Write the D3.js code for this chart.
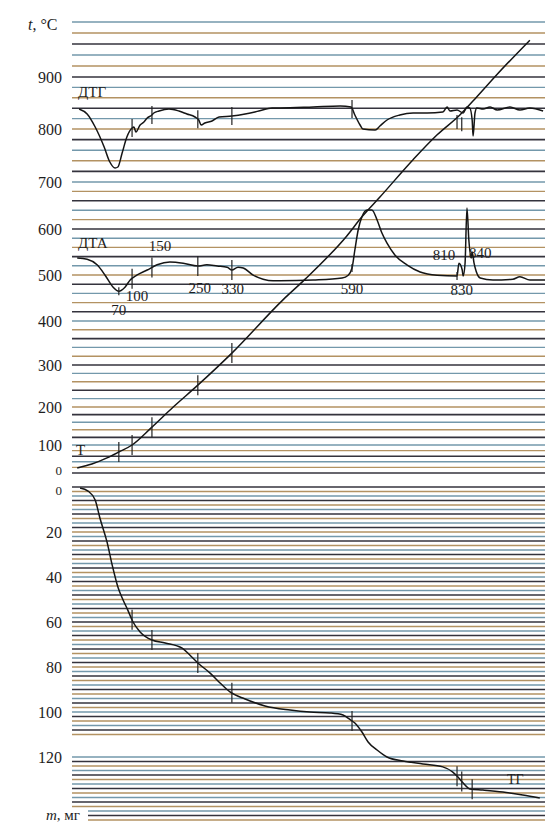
<!DOCTYPE html>
<html><head><meta charset="utf-8">
<script src="https://cdn.jsdelivr.net/npm/d3@7"></script>
<style>
body{margin:0;background:#fff}
svg{display:block}
text{font-family:"Liberation Serif","DejaVu Serif",serif;fill:#1e1e1e}
</style>
</head><body>
<svg id="c" width="545" height="825"></svg>
<script>
// ---------------- DATA ----------------
const tempTicks = [0, 100, 200, 300, 400, 500, 600, 700, 800, 900];
const massTicks = [0, 20, 40, 60, 80, 100, 120];

// heating curve T: time (min) vs temperature (°C)
const tTime = [1.1, 4.2, 7.4, 9.9, 12.7, 16.9, 21.4, 26.6, 33.8, 44.6, 49.3, 58.1, 61.3, 65.1, 72.1, 77.2, 82.0, 85.6, 89.9, 96.8];
const tTemp = [18, 32, 54, 75, 100, 147, 200, 252, 327, 446, 491, 585, 626, 668, 742, 789, 827, 862, 905, 967];

// DTG (arbitrary units, 0 = baseline)
const dtgTime = [1.5, 3.2, 4.9, 6.8, 8.0, 9.1, 9.7, 10.6, 11.6, 12.7, 13.1, 13.5, 14.4, 15.2, 15.9, 16.9, 17.3, 18.4, 20.5, 22.6, 24.3, 26.0, 26.8, 27.3, 28.1, 29.6, 31.1, 33.8, 36.6, 39.5, 42.3, 44.0, 51.0, 56.7, 59.0, 59.8, 60.9, 61.5, 64.1, 65.1, 66.6, 69.3, 72.1, 75.1, 78.4, 79.3, 79.9, 81.4, 82.7, 83.5, 84.1, 84.6, 84.8, 85.2, 85.6, 86.9, 88.4, 89.9, 92.6, 94.7, 96.8, 99.6];
const dtgVal  = [-0.1, -0.6, -1.9, -3.9, -5.4, -6.0, -5.9, -4.5, -2.9, -2.0, -1.9, -2.4, -1.7, -1.4, -1.0, -0.7, -0.5, -0.3, -0.1, -0.3, -0.6, -0.9, -1.2, -1.7, -1.5, -1.3, -0.9, -0.8, -0.6, -0.3, 0.0, 0.0, 0.1, 0.2, 0.1, -0.7, -1.7, -2.1, -2.2, -1.8, -1.2, -0.7, -0.5, -0.5, -0.4, 0.1, -0.3, -0.2, -0.5, 0.1, 0.0, -1.2, -2.8, -0.5, 0.0, -0.1, 0.1, -0.2, 0.1, -0.2, 0.0, -0.3];

// DTA (arbitrary units, 0 = baseline)
const dtaTime = [1.1, 3.2, 5.3, 7.0, 8.7, 9.9, 11.2, 12.3, 13.7, 15.9, 18.0, 20.7, 23.5, 26.6, 28.5, 30.7, 32.8, 33.8, 35.1, 36.2, 38.3, 40.4, 42.5, 44.0, 51.0, 57.1, 58.4, 59.2, 59.8, 60.5, 61.3, 62.4, 63.4, 64.5, 65.5, 66.6, 68.3, 70.8, 73.6, 77.2, 81.4, 81.8, 82.5, 82.7, 83.1, 83.5, 83.9, 84.4, 84.6, 85.0, 85.2, 86.3, 89.0, 93.2, 94.7, 96.8, 100];
const dtaVal  = [2.75, 2.6, 1.9, 0.6, -0.9, -1.4, -0.9, 0.0, 0.6, 1.25, 1.9, 2.25, 2.1, 1.75, 1.9, 1.75, 1.6, 1.25, 1.6, 1.5, 0.6, 0.1, -0.1, -0.1, 0.0, 0.25, 0.6, 1.5, 3.75, 6.25, 7.9, 8.75, 8.75, 7.5, 5.9, 4.6, 3.1, 1.9, 1.0, 0.6, 0.5, 2.1, 1.25, 0.5, 2.1, 9.0, 5.0, 2.75, 3.5, 2.1, 1.6, 0.25, 0.0, 0.1, 0.4, 0.0, 0.0];

// TG: mass loss (mg)
const tgTime = [1.7, 3.4, 4.9, 5.9, 7.4, 8.5, 9.7, 10.8, 11.8, 12.9, 14.4, 16.9, 19.7, 23.3, 24.9, 26.6, 29.2, 31.3, 33.4, 36.6, 40.8, 46.1, 50.3, 54.5, 57.3, 58.6, 59.8, 61.3, 62.6, 64.5, 66.6, 70.0, 74.2, 78.4, 80.5, 81.6, 82.7, 84.1, 86.9, 91.1, 95.3, 98.9];
const tgMass = [0.4, 1.8, 5.8, 13.8, 24.4, 34.7, 44.4, 50.2, 54.7, 60.0, 64.4, 68.0, 69.3, 71.6, 74.7, 78.2, 82.7, 87.1, 91.1, 94.2, 97.3, 99.1, 100.0, 100.4, 101.3, 103.1, 104.9, 108.9, 113.3, 116.9, 120.0, 121.8, 123.1, 124.4, 126.7, 128.9, 131.6, 134.2, 134.7, 135.6, 136.9, 138.2];

// time marks (min) and their temperature labels
const markTimes  = [9.9, 12.7, 16.9, 26.6, 33.8, 59.2, 81.4, 82.4, 84.6];
const markLabels = ["70", "100", "150", "250", "330", "590", "810", "830", "840"];

// ---------------- LAYOUT ----------------
const svg = d3.select("#c");
const X0 = 72, X1 = 545;
const x = d3.scaleLinear().domain([0, 100]).range([X0, X1]);
// non-linear chart paper temperature scale
const tempY = d3.scaleLinear()
  .domain([0, 100, 200, 300, 400, 500, 600, 700, 800, 900, 1000])
  .range([473, 445, 407, 365, 321, 275, 229, 182, 129, 77, 22]);
const massY = d3.scaleLinear().domain([0, 120]).range([487, 757]);
const dtgY = d3.scaleLinear().domain([0, -6]).range([108, 168]);
const dtaY = d3.scaleLinear().domain([0, 10]).range([280, 200]);

const gridCols = ["#34333d", "#b39262", "#7398ab"];
const gridW = [1.6, 1.4, 1.4];

// temperature grid
const tGrid = d3.range(0, 1001, 20);
svg.append("g").selectAll("line").data(tGrid).join("line")
  .attr("x1", X0).attr("x2", X1)
  .attr("y1", d => tempY(d)).attr("y2", d => tempY(d))
  .attr("stroke", (d, i) => gridCols[i % 3])
  .attr("stroke-width", (d, i) => gridW[i % 3]);

// mass grid
const mGrid = d3.range(0, 149, 2).filter(m => m <= 110 || m >= 120);
svg.append("g").selectAll("line").data(mGrid).join("line")
  .attr("x1", d => d >= 144 ? 88 : X0).attr("x2", X1)
  .attr("y1", d => massY(d)).attr("y2", d => massY(d))
  .attr("stroke", (d, i) => gridCols[i % 3])
  .attr("stroke-width", (d, i) => gridW[i % 3]);

// left axes
const ax1 = svg.append("g").attr("transform", `translate(${X0 - 10},0)`)
  .call(d3.axisLeft(tempY).tickValues(tempTicks).tickSize(0).tickPadding(0));
const ax2 = svg.append("g").attr("transform", `translate(${X0 - 10},0)`)
  .call(d3.axisLeft(massY).tickValues(massTicks).tickSize(0).tickPadding(0));
[ax1, ax2].forEach(a => {
  a.attr("font-family", '"Liberation Serif", serif').attr("font-size", 16);
  a.select(".domain").remove();
  a.selectAll("text").attr("font-size", d => d === 0 ? 13 : 16)
    .style("font-family", '"Liberation Serif", serif').attr("fill", "#1e1e1e");
});
ax1.selectAll("text").filter(d => d === 0).attr("dy", "0.1em");
ax2.selectAll("text").filter(d => d === 0).attr("dy", "0.55em");
ax2.selectAll("text").attr("fill", d => (d === 20 || d === 120) ? "#9a9a9a" : "#1e1e1e");

// axis titles
const t1 = svg.append("text").attr("x", 28).attr("y", 30).attr("font-size", 16);
t1.append("tspan").attr("font-style", "italic").text("t");
t1.append("tspan").text(", °C");
const t2 = svg.append("text").attr("x", 46).attr("y", 820).attr("font-size", 15);
t2.append("tspan").attr("font-style", "italic").text("m");
t2.append("tspan").text(", мг");

// curves
function drawCurve(times, vals, yS, curve) {
  const pts = times.map((t, i) => [t, vals[i]]);
  svg.append("path").datum(pts)
    .attr("fill", "none").attr("stroke", "#151515").attr("stroke-width", 1.5)
    .attr("stroke-linejoin", "round")
    .attr("d", d3.line().x(d => x(d[0])).y(d => yS(d[1])).curve(curve));
  return d3.scaleLinear().domain(times).range(vals).clamp(true);
}
const tAt   = drawCurve(tTime, tTemp, tempY, d3.curveMonotoneX);
const dtgAt = drawCurve(dtgTime, dtgVal, dtgY, d3.curveMonotoneX);
const dtaAt = drawCurve(dtaTime, dtaVal, dtaY, d3.curveMonotoneX);
const tgAt  = drawCurve(tgTime, tgMass, massY, d3.curveMonotoneX);

// tick marks across curves
function ticks(idx, fn, yS, half, off) {
  svg.append("g").selectAll("line").data(idx).join("line")
    .attr("x1", i => x(markTimes[i])).attr("x2", i => x(markTimes[i]))
    .attr("y1", i => yS(fn(markTimes[i])) - half + (off || 0))
    .attr("y2", i => yS(fn(markTimes[i])) + half + (off || 0))
    .attr("stroke", "#222").attr("stroke-width", 1.2);
}
ticks([0, 1, 2, 3, 4], tAt, tempY, 10);
ticks([1, 2, 3, 4, 5], dtgAt, dtgY, 9);
ticks([6, 7], dtgAt, dtgY, 7, 12);
ticks([1, 2, 3, 4], dtaAt, dtaY, 10);
ticks([0, 5, 6], dtaAt, dtaY, 4);
ticks([1, 2, 3, 4, 5, 6, 7, 8], tgAt, massY, 10);

// DTA temperature labels
const lblPos = [[0, 0, 315], [1, 5, 301], [2, 8, 251], [3, 2, 293], [4, 1, 294], [5, 0, 294], [6, -13, 260], [7, 0, 295], [8, 8, 258]];
svg.append("g").selectAll("text").data(lblPos).join("text")
  .attr("x", d => x(markTimes[d[0]]) + d[1]).attr("y", d => d[2])
  .attr("text-anchor", "middle").attr("font-size", 15)
  .text(d => markLabels[d[0]]);

// curve names
svg.append("text").attr("x", 78).attr("y", 97).attr("font-size", 15).text("ДТГ");
svg.append("text").attr("x", 78).attr("y", 248).attr("font-size", 15).text("ДТА");
svg.append("text").attr("x", 76).attr("y", 455).attr("font-size", 15).text("Т");
svg.append("text").attr("x", 507).attr("y", 784).attr("font-size", 14).text("ТГ");
</script>
</body></html>
